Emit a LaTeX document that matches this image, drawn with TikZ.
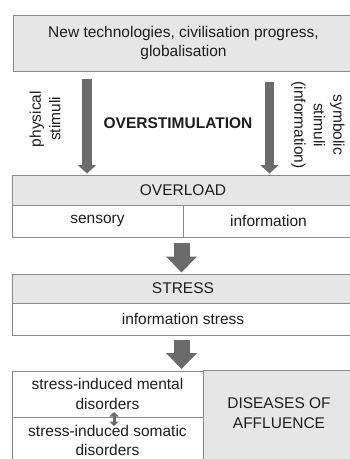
\documentclass[tikz,border=0pt]{standalone}
\usepackage{fontspec}
\setmainfont{Liberation Sans}
\usetikzlibrary{arrows.meta}
\definecolor{bord}{HTML}{8A8A8A}
\definecolor{hfill}{HTML}{E6E6E6}
\definecolor{arrc}{HTML}{6B6B6B}
\definecolor{txt}{HTML}{1E1E1E}
\newcommand{\fs}{\fontsize{15.5}{19.5}\selectfont}
\tikzset{
  base/.style={font=\fs, text=txt, align=center, inner sep=0pt, rectangle},
  hbox/.style={base, draw=bord, fill=hfill, line width=0.9pt},
  wbox/.style={base, draw=bord, fill=white, line width=0.9pt},
  thinarrow/.style={draw=arrc, line width=9.5pt, -{Triangle[width=18pt,length=8.5pt]}},
  fatarrow/.style={draw=arrc, line width=16pt, -{Triangle[width=30pt,length=16pt]}},
  smallarrow/.style={draw=arrc, line width=3pt, {Triangle[width=9pt,length=4.5pt]}-{Triangle[width=9pt,length=4.5pt]}},
}
\begin{document}
\begin{tikzpicture}[x=1pt,y=-1pt]
\clip (0,0) rectangle (350,459);
\fill[white] (0,0) rectangle (350,459);
% top box
\node[hbox, minimum width=341pt, minimum height=56pt] (top) at (183.5,43) {New technologies, civilisation progress,\\globalisation};
% overload
\node[hbox, minimum width=342pt, minimum height=30pt] (overload) at (183,190) {OVERLOAD};
\node[wbox, minimum width=171pt, minimum height=32pt] (sensory) at (97.5,221) {sensory};
\node[wbox, minimum width=171pt, minimum height=32pt] (information) at (268.5,221) {information};
% stress
\node[hbox, minimum width=342pt, minimum height=29pt] (stress) at (183,288.5) {STRESS};
\node[wbox, minimum width=342pt, minimum height=32pt] (infostress) at (183,319) {information stress};
% bottom
\node[wbox, minimum width=191pt, minimum height=46pt] (mental) at (107.5,394) {stress-induced mental\\disorders};
\node[wbox, minimum width=191pt, minimum height=50pt] (somatic) at (107.5,442) {};
\node[base] (somatictext) at (107.5,440.5) {stress-induced somatic\\disorders};
\node[hbox, minimum width=151pt, minimum height=97pt] (diseases) at (278.5,418.5) {};
\node[base] (diseasestext) at (279,413) {DISEASES OF\\AFFLUENCE};
% overstimulation
\node[base, font=\fs\bfseries] (over) at (178,123) {OVERSTIMULATION};
\node[base, rotate=90] (phys) at (45,119) {physical\\stimuli};
\node[base, rotate=-90] (symb) at (318,125) {symbolic\\stimuli\\(information)};
% arrows
\coordinate (la1) at (87,79);
\coordinate (la2) at (87,173.5);
\coordinate (ra1) at (269.5,82);
\coordinate (ra2) at (269.5,173.5);
\draw[thinarrow] (la1) -- (la2);
\draw[thinarrow] (ra1) -- (ra2);
\coordinate (ma1) at (181.5,243);
\coordinate (ma2) at (181.5,272.5);
\draw[fatarrow] (ma1) -- (ma2);
\coordinate (ba1) at (181.5,340);
\coordinate (ba2) at (181.5,369);
\draw[fatarrow] (ba1) -- (ba2);
\coordinate (da1) at (114,412);
\coordinate (da2) at (114,426);
\draw[smallarrow] (da1) -- (da2);
\end{tikzpicture}
\end{document}
